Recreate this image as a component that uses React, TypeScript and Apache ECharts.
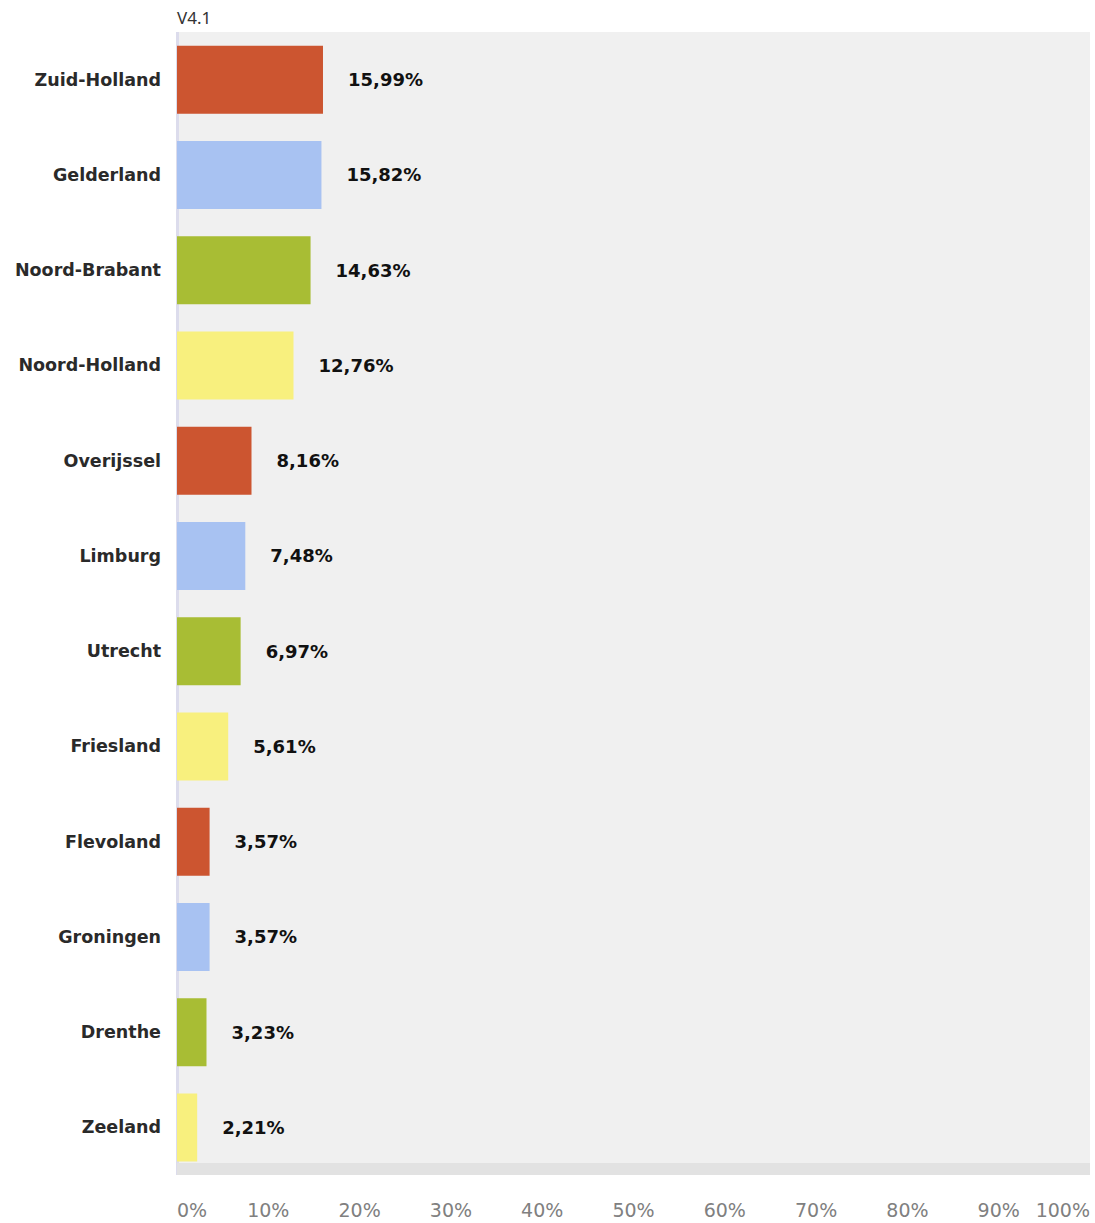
import React, { useEffect, useRef } from "react";
import * as echarts from "echarts";

const categories = [
  "Zuid-Holland",
  "Gelderland",
  "Noord-Brabant",
  "Noord-Holland",
  "Overijssel",
  "Limburg",
  "Utrecht",
  "Friesland",
  "Flevoland",
  "Groningen",
  "Drenthe",
  "Zeeland",
];
const values = [15.99, 15.82, 14.63, 12.76, 8.16, 7.48, 6.97, 5.61, 3.57, 3.57, 3.23, 2.21];
const palette = ["#cc5530", "#a8c2f2", "#a8bd34", "#f8f07e"];
const titleText = "V4.1";

export default function App() {
  const ref = useRef<HTMLDivElement>(null);
  useEffect(() => {
    if (!ref.current) return;
    const chart = echarts.init(ref.current, undefined, { renderer: "svg" });
    chart.setOption({
      animation: false,
      title: {
        text: titleText,
        left: 172,
        top: 4,
        textStyle: { fontFamily: "Noto Sans", fontSize: 17, fontWeight: "normal", color: "#333" },
      },
      grid: {
        left: 177,
        right: 5,
        top: 32,
        bottom: 48,
        show: true,
        backgroundColor: "#f0f0f0",
        borderWidth: 0,
        containLabel: false,
      },
      xAxis: {
        type: "value",
        min: 0,
        max: 100,
        interval: 10,
        offset: -6,
        axisLine: { show: true, lineStyle: { color: "#e2e2e2", width: 12, cap: "butt" } },
        axisTick: { show: false },
        splitLine: { show: false },
        axisLabel: {
          formatter: "{value}%",
          margin: 31,
          fontFamily: "DejaVu Sans",
          fontSize: 19,
          color: "#808080",
          alignMinLabel: "left",
          alignMaxLabel: "right",
        },
      },
      yAxis: {
        type: "category",
        data: categories,
        inverse: true,
        axisLine: { show: true, lineStyle: { color: "#dcdcec", width: 3, cap: "butt" } },
        axisTick: { show: false },
        axisLabel: {
          margin: 16,
          fontFamily: "DejaVu Sans",
          fontWeight: "bold",
          fontSize: 17.5,
          color: "#2a2a2a",
        },
      },
      series: [
        {
          type: "bar",
          data: values.map((v, i) => ({ value: v, itemStyle: { color: palette[i % 4] } })),
          barWidth: 68,
          label: {
            show: true,
            position: "right",
            distance: 25,
            formatter: (p: any) => p.value.toFixed(2).replace(".", ",") + "%",
            fontFamily: "DejaVu Sans",
            fontWeight: "bold",
            fontSize: 18,
            color: "#111",
          },
        },
      ],
    });
    return () => chart.dispose();
  }, []);
  return (
    <div
      ref={ref}
      style={{ position: "absolute", left: 0, top: 0, width: 1095, height: 1223 }}
    />
  );
}
